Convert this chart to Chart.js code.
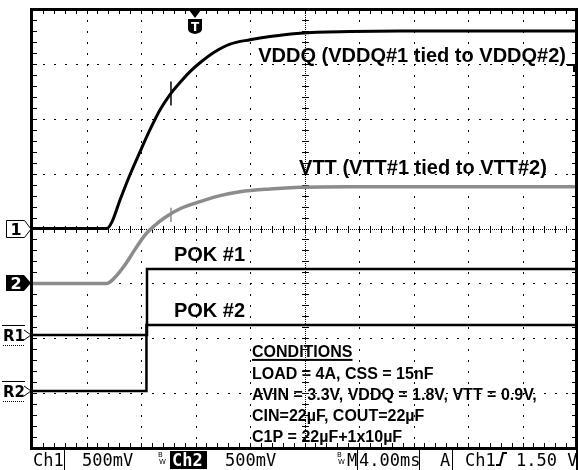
<!DOCTYPE html>
<html>
<head>
<meta charset="utf-8">
<script src="https://cdn.jsdelivr.net/npm/chart.js@4"></script>
<style>
html,body{margin:0;padding:0;background:#fff}
#wrap{width:579px;height:470px}
</style>
</head>
<body>
<div id="wrap"><canvas id="scope" width="579" height="470"></canvas></div>
<script>
// scope settings: 4 ms/div across 10 div, 500 mV/div over 8 div
const divTime=4
const divVolt=0.5

// Ch1 - VDDQ (V)
const vddqT=[0,5.5,5.87,6.46,7.19,7.93,8.66,9.39,10.13,10.86,11.6,12.33,13.43,14.53,16.0,17.47,19.67,23.34,27.0,40]
const vddqV=[0,0,0.06,0.26,0.49,0.70,0.90,1.08,1.22,1.33,1.43,1.51,1.61,1.68,1.72,1.75,1.78,1.795,1.80,1.80]

// Ch2 - VTT (V)
const vttT=[0,5.5,6.09,6.83,7.56,8.29,9.03,9.76,10.86,12.33,13.8,15.27,17.47,19.67,23.34,40]
const vttV=[0,0,0.055,0.17,0.31,0.44,0.53,0.60,0.68,0.745,0.80,0.835,0.86,0.875,0.88,0.88]

// short glitches on both channels at the same instant (time, low, high)
const glitchT=10.2
const vddqGlitch=[1.12,1.34]
const vttGlitch=[0.56,0.69]

// R1 / R2 - power-ok outputs (logic level)
const pok1T=[0,8.44,8.44,40]
const pok1L=[0,0,1,1]
const pok2T=[0,8.4,8.4,40]
const pok2L=[0,0,1,1]

const conditions=['LOAD = 4A, CSS = 15nF','AVIN = 3.3V, VDDQ = 1.8V, VTT = 0.9V,','CIN=22µF, COUT=22µF','C1P = 22µF+1x10µF']

const trigTime=11.95
const trigLevel=1.5

// where each trace sits on screen (volts on the Ch1 scale)
const ch1Offset=0
const ch2Offset=-0.5
const ref1Offset=-0.97
const ref2Offset=-1.48
const refSpan=0.6

function pts(ts,vs,off,scale){
    return ts.map((t,i)=>({x:t,y:vs[i]*(scale||1)+off}))
}

const scopeDecor={
    id:'scopeDecor',
    beforeDatasetsDraw(chart){
        const {ctx,chartArea:a,scales:{x,y}}=chart
        ctx.save()
        ctx.fillStyle='#000'
        // division lines, dotted at 1/5 div
        for(let i=1;i<10;i++){
            if(i===5) continue
            const px=Math.round(x.getPixelForValue(i*divTime))
            for(let k=1;k<40;k++){
                const py=Math.round(y.getPixelForValue(-2+k*divVolt/5))
                ctx.fillRect(px,py,1,2)
            }
        }
        for(let j=1;j<8;j++){
            if(j===4) continue
            const py=Math.round(y.getPixelForValue(-2+j*divVolt))
            for(let k=1;k<50;k++){
                const px=Math.round(x.getPixelForValue(k*divTime/5))
                ctx.fillRect(px,py,2,1)
            }
        }
        // centre cross with minor ticks
        const cx=Math.round(x.getPixelForValue(5*divTime))
        const cy=Math.round(y.getPixelForValue(0))
        for(let py=a.top;py<a.bottom;py+=2) ctx.fillRect(cx,py,1,1)
        for(let px=a.left;px<a.right;px+=2) ctx.fillRect(px,cy,1,1)
        for(let k=1;k<40;k++){
            const py=Math.round(y.getPixelForValue(-2+k*divVolt/5))
            ctx.fillRect(cx-3,py,7,1)
        }
        for(let k=1;k<50;k++){
            const px=Math.round(x.getPixelForValue(k*divTime/5))
            ctx.fillRect(px,cy-3,1,7)
        }
        // ticks along the frame
        for(let k=1;k<50;k++){
            const px=Math.round(x.getPixelForValue(k*divTime/5))
            ctx.fillRect(px,a.top,1,5)
            ctx.fillRect(px,a.bottom-5,1,5)
        }
        for(let k=1;k<40;k++){
            const py=Math.round(y.getPixelForValue(-2+k*divVolt/5))
            ctx.fillRect(a.left,py,5,1)
            ctx.fillRect(a.right-5,py,5,1)
        }
        ctx.restore()
    },
    afterDatasetsDraw(chart){
        const {ctx,chartArea:a,scales:{x,y}}=chart
        ctx.save()
        // frame
        ctx.strokeStyle='#000'
        ctx.lineWidth=3
        ctx.strokeRect(a.left-0.5,a.top+0.5,a.right-a.left,a.bottom-a.top)

        // trace labels
        ctx.fillStyle='#000'
        ctx.textBaseline='alphabetic'
        ctx.font='bold 20px "Liberation Sans", Arial, sans-serif'
        ctx.fillText('VDDQ (VDDQ#1 tied to VDDQ#2)',x.getPixelForValue(16.6),y.getPixelForValue(1.513))
        ctx.fillText('VTT (VTT#1 tied to VTT#2)',x.getPixelForValue(19.6),y.getPixelForValue(0.5))
        ctx.fillText('POK #1',x.getPixelForValue(10.42),y.getPixelForValue(-0.30))
        ctx.fillText('POK #2',x.getPixelForValue(10.42),y.getPixelForValue(-0.81))

        // test conditions
        ctx.font='bold 16px "Liberation Sans", Arial, sans-serif'
        const lx=x.getPixelForValue(16.15)
        const ly=y.getPixelForValue(-1.17)
        ctx.fillText('CONDITIONS',lx,ly)
        const w=ctx.measureText('CONDITIONS').width
        ctx.fillRect(lx,ly+2,w,2)
        conditions.forEach((c,i)=>ctx.fillText(c,lx,ly+22+i*21))

        // trigger position marker
        const tx=Math.round(x.getPixelForValue(trigTime))
        ctx.beginPath()
        ctx.moveTo(tx-6,a.top+1);ctx.lineTo(tx+6,a.top+1);ctx.lineTo(tx,a.top+9);ctx.closePath()
        ctx.fill()
        ctx.beginPath()
        ctx.moveTo(tx-7,a.top+10);ctx.lineTo(tx+7,a.top+10);ctx.lineTo(tx+7,a.top+20)
        ctx.quadraticCurveTo(tx+7,a.top+24,tx,a.top+25)
        ctx.quadraticCurveTo(tx-7,a.top+24,tx-7,a.top+20);ctx.closePath()
        ctx.fill()
        ctx.fillStyle='#fff'
        ctx.font='bold 12px "DejaVu Sans", sans-serif'
        ctx.textAlign='center'
        ctx.fillText('T',tx,a.top+22)
        ctx.textAlign='left'
        ctx.fillStyle='#000'

        // trigger level marker on right edge
        const ty=Math.round(y.getPixelForValue(trigLevel))
        ctx.fillRect(a.right-10,ty,10,2)
        ctx.fillRect(a.right-4,ty,2,8)

        // channel ground markers
        const m1=Math.round(y.getPixelForValue(ch1Offset))
        const m2=Math.round(y.getPixelForValue(ch2Offset))
        const r1=Math.round(y.getPixelForValue(ref1Offset))
        const r2=Math.round(y.getPixelForValue(ref2Offset))
        ctx.lineWidth=1
        ctx.beginPath()
        ctx.moveTo(6.5,m1-8.5);ctx.lineTo(24.5,m1-8.5);ctx.lineTo(31,m1);ctx.lineTo(24.5,m1+8.5);ctx.lineTo(6.5,m1+8.5);ctx.closePath()
        ctx.fillStyle='#fff';ctx.fill();ctx.stroke()
        ctx.beginPath()
        ctx.moveTo(6,m2-8);ctx.lineTo(24,m2-8);ctx.lineTo(31,m2);ctx.lineTo(24,m2+8);ctx.lineTo(6,m2+8);ctx.closePath()
        ctx.fillStyle='#000';ctx.fill()
        ctx.font='bold 16px "DejaVu Sans", sans-serif'
        ctx.textAlign='center'
        ctx.fillStyle='#000';ctx.fillText('1',16,m1+6)
        ctx.fillStyle='#fff';ctx.fillText('2',16,m2+6)
        ctx.fillStyle='#000'
        ctx.textAlign='left'
        ctx.font='bold 15px "DejaVu Sans", sans-serif';
        [[r1,'R1'],[r2,'R2']].forEach(([ry,t])=>{
            ctx.fillText(t,3,ry+6)
            ctx.fillRect(2,ry-10,23,1)
            for(let px=3;px<24;px+=2) ctx.fillRect(px,ry+10,1,1)
            ctx.beginPath()
            ctx.moveTo(24,ry-5);ctx.lineTo(31,ry);ctx.lineTo(24,ry+5)
            ctx.stroke()
        })

        // status line under the graticule
        const sb=466
        ctx.font='17px "DejaVu Sans Mono", monospace'
        ctx.fillText('Ch1',33,sb)
        ctx.fillRect(64,450,1,20)
        ctx.fillText('500mV',82,sb)
        ctx.fillRect(170,451,37,18)
        ctx.fillStyle='#fff'
        ctx.font='bold 17px "DejaVu Sans Mono", monospace'
        ctx.fillText('Ch2',172,sb)
        ctx.fillStyle='#000'
        ctx.font='17px "DejaVu Sans Mono", monospace'
        ctx.fillText('500mV',225,sb)
        ctx.fillText('M',347,sb)
        ctx.fillRect(357,450,1,20)
        ctx.fillText('4.00ms',359,sb)
        ctx.fillRect(419,450,1,20)
        ctx.fillText('A',440,sb)
        ctx.fillRect(452,450,1,20)
        ctx.fillText('Ch1',465,sb)
        ctx.fillText('1.50 V',516,sb)
        ctx.fillRect(576,450,2,20)
        ctx.font='7px "DejaVu Sans", sans-serif';
        [158,337].forEach(bx=>{
            ctx.fillText('B',bx,457)
            ctx.fillText('W',bx+1,464)
        })
        ctx.lineWidth=2
        ctx.beginPath()
        ctx.moveTo(496,465);ctx.lineTo(500,465);ctx.lineTo(503,453);ctx.lineTo(507,453)
        ctx.stroke()
        ctx.restore()
    }
}

const ctx=document.getElementById('scope')
new Chart(ctx,{
    type:'line',
    data:{
        datasets:[
            {label:'POK #2',data:pts(pok2T,pok2L,ref2Offset,refSpan),borderColor:'#000',borderWidth:2.5,tension:0},
            {label:'POK #1',data:pts(pok1T,pok1L,ref1Offset,refSpan),borderColor:'#000',borderWidth:2.5,tension:0},
            {label:'VTT',data:pts(vttT,vttV,ch2Offset),borderColor:'#8c8c8c',borderWidth:3.5,cubicInterpolationMode:'monotone'},
            {label:'VTT glitch',data:pts([glitchT,glitchT],vttGlitch,ch2Offset),borderColor:'#8c8c8c',borderWidth:1.5},
            {label:'VDDQ',data:pts(vddqT,vddqV,ch1Offset),borderColor:'#000',borderWidth:3,cubicInterpolationMode:'monotone'},
            {label:'VDDQ glitch',data:pts([glitchT,glitchT],vddqGlitch,ch1Offset),borderColor:'#000',borderWidth:1.5}
        ]
    },
    options:{
        responsive:false,
        animation:false,
        devicePixelRatio:1,
        layout:{padding:{left:32,top:9,right:2,bottom:22}},
        scales:{
            x:{type:'linear',min:0,max:40,display:false},
            y:{type:'linear',min:-2,max:2,display:false}
        },
        elements:{point:{radius:0}},
        plugins:{legend:{display:false},tooltip:{enabled:false}}
    },
    plugins:[scopeDecor]
})
</script>
</body>
</html>
